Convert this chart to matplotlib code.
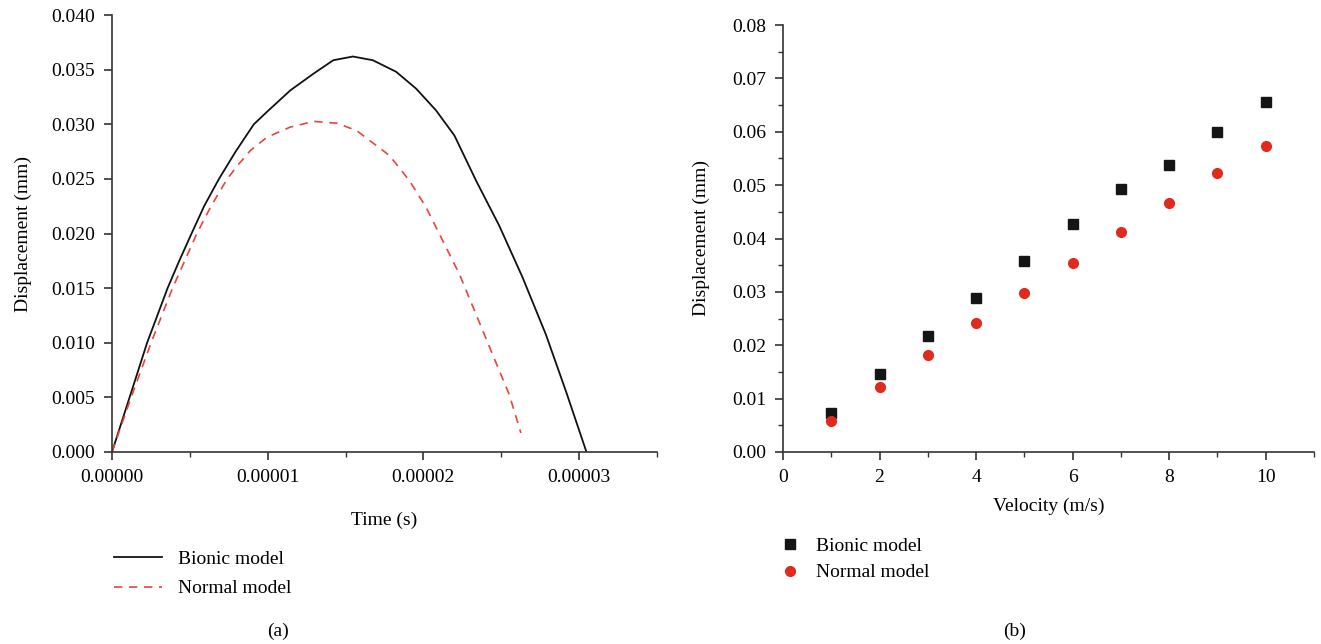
"""
Displacement of the bionic and normal models: (a) versus time, (b) versus velocity.
"""
import matplotlib
matplotlib.use("Agg")
from matplotlib import pyplot as plt
from matplotlib.ticker import MultipleLocator, FormatStrFormatter

# (a) displacement over time (time in 1e-5 s, displacement in mm)
bionic_t = [0, 0.113, 0.2255, 0.357, 0.432, 0.511, 0.5915, 0.687, 0.794, 0.911, 1.0, 1.145,
            1.294, 1.421, 1.547, 1.675, 1.825, 1.953, 2.081, 2.199, 2.338, 2.487, 2.637, 2.786,
            2.915, 3.047]
bionic_d = [0, 0.005, 0.010, 0.015, 0.0175, 0.020, 0.0225, 0.025, 0.0275, 0.030, 0.0312, 0.0331,
            0.03463, 0.03586, 0.0362, 0.03586, 0.0348, 0.03326, 0.03127, 0.02897, 0.02484,
            0.02071, 0.01597, 0.01077, 0.00557, 0.0]
normal_t = [0, 0.123, 0.251, 0.389, 0.545, 0.636, 0.740, 0.815, 0.889, 0.996, 1.145, 1.294,
            1.443, 1.570, 1.655, 1.782, 1.910, 2.017, 2.124, 2.231, 2.338, 2.444, 2.551, 2.626]
normal_d = [0, 0.005, 0.010, 0.015, 0.020, 0.0225, 0.025, 0.02637, 0.0276, 0.02882, 0.02974,
            0.03026, 0.0301, 0.02943, 0.02851, 0.02714, 0.02484, 0.0224, 0.01934, 0.01628,
            0.0126, 0.00893, 0.00526, 0.00174]

# (b) peak displacement versus velocity
velocity = [1, 2, 3, 4, 5, 6, 7, 8, 9, 10]
bionic_peak = [0.0073, 0.0147, 0.0218, 0.0289, 0.0357, 0.0428, 0.0492, 0.0537, 0.0600, 0.0656]
normal_peak = [0.0059, 0.0122, 0.0181, 0.0241, 0.0298, 0.0355, 0.0412, 0.0467, 0.0522, 0.0573]

plt.rcParams["font.family"] = ["Liberation Serif", "DejaVu Serif"]
plt.rcParams["font.size"] = 14

W, H = 1321, 644
fig = plt.figure(figsize=(W / 100, H / 100), dpi=100)

RED = "#e8453c"


def style_axes(ax):
    for side in ("top", "right"):
        ax.spines[side].set_visible(False)
    for side in ("left", "bottom"):
        ax.spines[side].set_linewidth(1.2)
        ax.spines[side].set_color("#333333")
    ax.tick_params(which="major", direction="out", length=6, width=1.2, color="#333333",
                   labelsize=14, pad=6)
    ax.tick_params(which="minor", direction="out", length=3.5, width=1.0, color="#333333")


# ---- panel (a)
ax1 = fig.add_axes([112 / W, 1 - 452 / H, 545 / W, 437 / H])
ax1.plot([t * 1e-5 for t in bionic_t], bionic_d, color="#111111", lw=1.3, label="Bionic model")
ax1.plot([t * 1e-5 for t in normal_t], normal_d, color=RED, lw=1.2, ls=(0, (5, 4)),
         label="Normal model")
ax1.set_xlim(0, 3.5e-5)
ax1.set_ylim(0, 0.040)
ax1.xaxis.set_major_locator(MultipleLocator(1e-5))
ax1.xaxis.set_minor_locator(MultipleLocator(0.5e-5))
ax1.yaxis.set_major_locator(MultipleLocator(0.005))
ax1.xaxis.set_major_formatter(FormatStrFormatter("%.5f"))
ax1.yaxis.set_major_formatter(FormatStrFormatter("%.3f"))
ax1.set_xlabel("Time (s)", labelpad=19)
ax1.set_ylabel("Displacement (mm)", labelpad=14)
style_axes(ax1)
ax1.legend(loc="upper left", bbox_to_anchor=(96 / W, 1 - 533 / H), bbox_transform=fig.transFigure,
           frameon=False, handlelength=2.5, handletextpad=0.8, labelspacing=0.6, fontsize=14)
fig.text(278 / W, 1 - 631 / H, "(a)", ha="center", va="center", fontsize=14)

# ---- panel (b)
ax2 = fig.add_axes([783 / W, 1 - 452 / H, 531 / W, 427 / H])
ax2.plot(velocity, bionic_peak, ls="none", marker="s", ms=7.5, color="#151515", label="Bionic model")
ax2.plot(velocity, normal_peak, ls="none", marker="o", ms=7, color="#e02a1e", label="Normal model")
ax2.set_xlim(0, 11)
ax2.set_ylim(0, 0.08)
ax2.xaxis.set_major_locator(MultipleLocator(2))
ax2.xaxis.set_minor_locator(MultipleLocator(1))
ax2.yaxis.set_major_locator(MultipleLocator(0.01))
ax2.yaxis.set_minor_locator(MultipleLocator(0.005))
ax2.yaxis.set_major_formatter(FormatStrFormatter("%.2f"))
ax2.set_xlabel("Velocity (m/s)", labelpad=9)
ax2.set_ylabel("Displacement (mm)", labelpad=16)
style_axes(ax2)
ax2.legend(loc="upper left", bbox_to_anchor=(763 / W, 1 - 520 / H), bbox_transform=fig.transFigure,
           frameon=False, handlelength=1.0, handletextpad=0.8, labelspacing=0.45, fontsize=14)
fig.text(1015 / W, 1 - 631 / H, "(b)", ha="center", va="center", fontsize=14)

fig.savefig("out.png", dpi=100)
